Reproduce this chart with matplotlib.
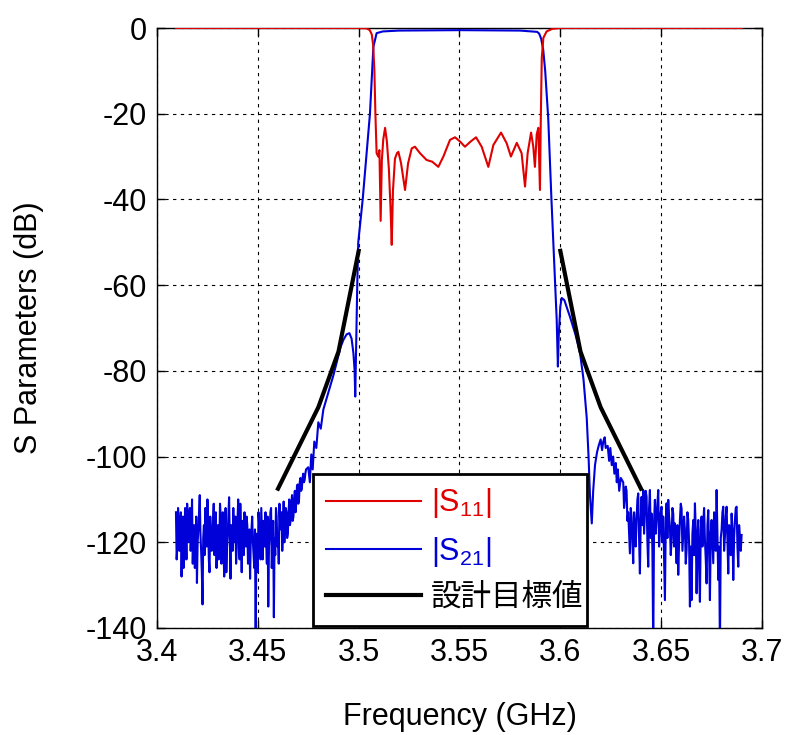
import numpy as np
import matplotlib
matplotlib.use('Agg')
import matplotlib.pyplot as plt
from matplotlib.ticker import FuncFormatter

plt.rcParams['font.family'] = ['Liberation Sans', 'Noto Sans CJK JP', 'DejaVu Sans']
plt.rcParams['mathtext.fontset'] = 'custom'
plt.rcParams['mathtext.rm'] = 'Liberation Sans'
plt.rcParams['mathtext.default'] = 'rm'
plt.rcParams['axes.unicode_minus'] = False

# |S11| (dB)
f_s11 = [3.4094, 3.5000, 3.5040, 3.5055, 3.5065, 3.5072, 3.5078, 3.5083, 3.5089, 3.5097,
         3.5103, 3.5109, 3.5115, 3.5122, 3.5131, 3.5140, 3.5150, 3.5158, 3.5164, 3.5170,
         3.5180, 3.5190, 3.5197, 3.5210, 3.5230, 3.5245, 3.5263, 3.5279, 3.5304, 3.5337,
         3.5365, 3.5395, 3.5420, 3.5453, 3.5478, 3.5503, 3.5527, 3.5555, 3.5582, 3.5610,
         3.5643, 3.5668, 3.5706, 3.5734, 3.5755, 3.5784, 3.5808, 3.5825, 3.5838, 3.5855,
         3.5866, 3.5874, 3.5883, 3.5891, 3.5899, 3.5903, 3.5908, 3.5916, 3.5932, 3.5960,
         3.6000, 3.6899]
s11_db = [0.0, 0.0, -0.1, -0.5, -1.5, -4.0, -10.0, -20.0, -29.2, -30.0,
          -28.5, -45.0, -30.8, -26.0, -23.3, -26.5, -33.0, -42.0, -50.6, -38.0,
          -30.5, -29.2, -28.9, -31.5, -37.8, -31.6, -28.1, -27.7, -29.2, -30.8,
          -31.2, -32.4, -30.0, -26.1, -25.5, -26.5, -27.7, -26.5, -25.5, -27.7,
          -32.4, -27.3, -24.4, -26.9, -30.0, -26.8, -29.2, -37.0, -29.2, -24.4,
          -27.7, -32.4, -24.8, -23.3, -37.8, -21.9, -7.0, -2.3, -0.8, -0.2,
          0.0, 0.0]

# |S21| lower stopband noise (dB), 3.4094 .. 3.4739 GHz
s21_noise_lo = [
    -113, -124, -121, -112, -115, -122, -119, -113, -128, -118, -114, -126, -123, -112, -117, -124, -111, -116, -120, -113,
    -112, -122, -118, -110, -125, -119, -116, -126, -121, -114, -129.5, -120, -117, -113, -109, -118, -122, -127, -134.5, -119,
    -116, -123, -112, -117, -121, -110, -115, -124, -127, -114, -118, -122, -120, -115, -111, -123, -119, -113, -126, -120,
    -116, -124, -121, -111, -114, -125, -119, -113, -122, -128, -117, -112, -127, -121, -118, -114, -109.5, -120, -128.5, -116,
    -117, -122, -112, -118, -120, -114, -125, -121, -115, -110, -119, -124, -111, -118, -127, -115, -118, -123, -113, -119,
    -121, -114, -116, -125, -123, -117, -128.5, -119, -117, -114, -120, -123, -126, -117, -145, -118, -122, -127, -113, -116,
    -119, -124, -112, -118, -124, -115, -117, -121, -113, -120, -125, -114, -135, -121, -118, -113, -112, -126, -120, -115,
    -137.5, -119, -123, -112, -114, -121, -119, -125, -111, -116, -117, -113, -122, -118, -110.5, -120, -116, -112, -113, -119,
    -118, -113, -110, -116, -115, -111, -109, -115, -114, -110, -108, -113, -111, -107, -106.5, -111, -110, -106, -105, -108,
    -107.5, -105, -104, -106, -105.5, -104, -103]

# |S21| skirts and passband (dB)
f_s21_mid = [3.4750, 3.4758, 3.4765, 3.4772, 3.4780, 3.4790, 3.4800, 3.4812, 3.4825, 3.4850,
             3.4875, 3.4891, 3.4910, 3.4924, 3.4940, 3.4954, 3.4965, 3.4974, 3.4980, 3.4983,
             3.4986, 3.4990, 3.4993, 3.4998, 3.5020, 3.5056, 3.5073, 3.5089, 3.5120, 3.5200,
             3.5500, 3.5800, 3.5885, 3.5895, 3.5905, 3.5915, 3.5925, 3.5940, 3.5956, 3.5970,
             3.5982, 3.5988, 3.5992, 3.6000, 3.6007, 3.6020, 3.6048, 3.6075, 3.6098, 3.6115,
             3.6131, 3.6140, 3.6147, 3.6156, 3.6163, 3.6172, 3.6182, 3.6190, 3.6200, 3.6207,
             3.6213, 3.6220, 3.6225, 3.6235, 3.6242, 3.6248, 3.6255, 3.6262, 3.6268, 3.6275,
             3.6280, 3.6285, 3.6292, 3.6300]
s21_mid = [-102.5, -106.0, -99.5, -103.0, -96.5, -98.0, -92.0, -93.5, -89.0, -85.0,
           -81.0, -78.0, -74.5, -72.8, -71.5, -71.2, -72.5, -75.9, -80.0, -86.0,
           -78.0, -66.6, -60.0, -50.0, -40.0, -20.0, -4.4, -1.2, -0.8, -0.6,
           -0.5, -0.6, -0.9, -1.3, -2.5, -5.0, -10.0, -21.0, -40.0, -55.0,
           -68.0, -79.0, -72.0, -65.0, -63.0, -63.5, -67.4, -71.5, -75.9, -82.0,
           -91.0, -100.0, -109.0, -115.6, -108.0, -102.0, -99.0, -97.5, -96.0, -98.5,
           -96.5, -95.5, -98.0, -97.5, -101.0, -98.0, -102.0, -100.0, -104.0, -101.5,
           -106.0, -103.0, -108.0, -105.0]

# |S21| upper stopband noise (dB), 3.6312 .. 3.6899 GHz
s21_noise_hi = [
    -106, -112, -110, -107, -108, -115, -113, -118, -122.6, -112, -114, -120, -124.9, -113, -116, -121, -114.8, -110, -108.6, -119,
    -127.3, -115, -109.4, -116, -107.8, -118, -113.3, -108, -109.4, -120, -125.7, -112, -107.8, -119, -113.3, -122, -145, -115, -110.1, -118,
    -114.8, -111, -107.8, -121, -117.9, -113, -111.7, -120, -114.0, -124, -133.5, -116, -110.9, -119, -110.1, -114, -116.4, -123, -119.5, -112,
    -113.3, -121, -115.6, -118, -124.9, -116, -127.6, -120, -114.8, -111, -112.1, -122, -117.9, -114, -117.1, -125, -121.8, -113, -114.8, -120,
    -135.0, -121, -133.5, -118, -114.8, -123, -110.9, -117, -131.9, -120, -114.8, -126, -133.9, -117, -114.0, -121, -115.6, -112, -119.5, -124,
    -129.6, -116, -112.5, -122, -133.5, -118, -114.8, -120, -124.9, -113, -117.9, -122, -107.8, -118, -128.8, -121, -145, -119, -117.1, -113,
    -111.7, -122, -118.7, -114, -111.7, -120, -127.3, -116, -118.7, -123, -113.3, -117, -128.8, -119, -114.8, -112, -111.7, -121, -125.7, -116,
    -118.7, -122, -118.3]

# design target (設計目標値)
f_tgt_lo = [3.46, 3.48, 3.49, 3.50]
tgt_lo = [-107.5, -88.5, -75.5, -52.0]
f_tgt_hi = [3.60, 3.61, 3.62, 3.64]
tgt_hi = [-52.0, -75.5, -88.5, -107.5]

f_s21 = np.concatenate([np.linspace(3.4094, 3.4739, len(s21_noise_lo)), f_s21_mid,
                        np.linspace(3.6312, 3.6899, len(s21_noise_hi))])
s21_db = np.concatenate([s21_noise_lo, s21_mid, s21_noise_hi])

fig = plt.figure(figsize=(7.87, 7.35), dpi=100)
ax = fig.add_axes([0.1995, 0.1456, 0.7687, 0.8163])

red = '#e00000'
blue = '#0000d8'
fs = 22
l1, = ax.plot(f_s11, s11_db, color=red, lw=1.5, zorder=4, label=r'|S$_{11}$|')
l2, = ax.plot(f_s21, s21_db, color=blue, lw=1.5, zorder=3, label=r'|S$_{21}$|')
l3, = ax.plot(f_tgt_lo, tgt_lo, color='black', lw=3, zorder=5, label='設計目標値')
ax.plot(f_tgt_hi, tgt_hi, color='black', lw=3, zorder=5)

ax.set_xlim(3.4, 3.7)
ax.set_ylim(-140, 0)
ax.set_xticks([3.4, 3.45, 3.5, 3.55, 3.6, 3.65, 3.7])
ax.set_yticks([0, -20, -40, -60, -80, -100, -120, -140])
ax.xaxis.set_major_formatter(FuncFormatter(lambda v, p: '%g' % v))
ax.yaxis.set_major_formatter(FuncFormatter(lambda v, p: '%g' % v))
ax.tick_params(direction='in', length=6, width=1, labelsize=fs,
               top=True, right=True, pad=7)
ax.grid(True, color='black', linestyle=(0, (3, 4)), linewidth=0.8)
for s in ax.spines.values():
    s.set_linewidth(1.0)

ax.set_xlabel('Frequency (GHz)', fontsize=fs, labelpad=25)
ax.set_ylabel('S Parameters (dB)', fontsize=fs, labelpad=30)

leg = ax.legend(handles=[l1, l2, l3], loc='lower left',
                bbox_to_anchor=(0.258, 0.0033, 0.453, 0.2533), mode='expand',
                borderaxespad=0, fontsize=fs, handlelength=3.1, handletextpad=0.35,
                labelspacing=0.47, borderpad=0.42, fancybox=False,
                framealpha=1, edgecolor='black', labelcolor='linecolor')
leg.get_frame().set_linewidth(2)
leg.set_zorder(10)

fig.savefig('out.png', dpi=100)
